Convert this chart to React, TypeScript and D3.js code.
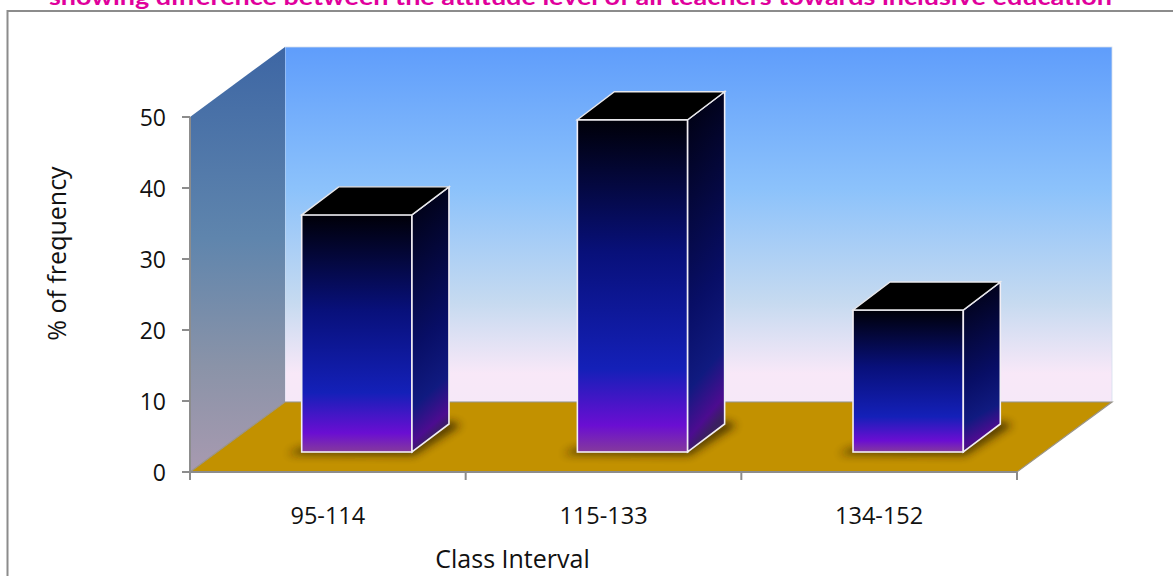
import React from "react";
import * as d3 from "d3";

const titleText = "showing difference between the attitude level of all teachers towards inclusive education";
const categories = ["95-114", "115-133", "134-152"];
const frequency = [33.4, 46.8, 20];
const yTicks = [0, 10, 20, 30, 40, 50];

const W = 1173;
const H = 576;
const plotLeft = 190;
const plotRight = 1017;
const plotBottom = 472;
const plotTop = 117;
const wallDx = 95;
const wallDy = -70;
const barShiftX = 29;
const barShiftY = -20;
const barDepthX = 37;
const barDepthY = -28;

const x = d3.scaleBand<string>().domain(categories).range([plotLeft, plotRight]).paddingInner(0.6).paddingOuter(0.3);
const bandX = d3.scaleBand<string>().domain(categories).range([plotLeft, plotRight]);
const y = d3.scaleLinear().domain([0, 50]).range([plotBottom, plotTop]);

const poly = d3.line<[number, number]>().curve(d3.curveLinearClosed);

const frontStops: [string, string][] = [
  ["0%", "#000008"],
  ["40%", "#08107a"],
  ["75%", "#1420b8"],
  ["92%", "#6a0ed2"],
  ["100%", "#853a9c"],
];
const sideStops: [string, string][] = [
  ["0%", "#00000c"],
  ["60%", "#080e66"],
  ["82%", "#101a80"],
  ["95%", "#4c0c90"],
  ["100%", "#3a2060"],
];

export default function App() {
  const gridBack = plotRight + wallDx;
  const backTop = plotTop + wallDy;
  const backBottom = plotBottom + wallDy;
  return (
    <svg
      width={W}
      height={H}
      viewBox={`0 0 ${W} ${H}`}
      style={{ position: "absolute", left: 0, top: 0, background: "#fff" }}
    >
      <defs>
        <linearGradient id="backWall" x1="0" y1="0" x2="0" y2="1">
          <stop offset="0%" stopColor="#5f9dfb" />
          <stop offset="40%" stopColor="#8cc2fb" />
          <stop offset="72%" stopColor="#c6daf0" />
          <stop offset="92%" stopColor="#f8e8f8" />
          <stop offset="100%" stopColor="#f6e8f8" />
        </linearGradient>
        <linearGradient id="sideWall" x1="0" y1="0" x2="0" y2="1">
          <stop offset="0%" stopColor="#3d66a4" />
          <stop offset="45%" stopColor="#5f85ad" />
          <stop offset="75%" stopColor="#8a93a8" />
          <stop offset="100%" stopColor="#a89ab0" />
        </linearGradient>
        <linearGradient id="barFront" x1="0" y1="0" x2="0" y2="1">
          {frontStops.map(([o, c]) => <stop key={o} offset={o} stopColor={c} />)}
        </linearGradient>
        <linearGradient id="barSide" x1="0" y1="0" x2="0.12" y2="1">
          {sideStops.map(([o, c]) => <stop key={o} offset={o} stopColor={c} />)}
        </linearGradient>
        <filter id="soft" x="-30%" y="-100%" width="160%" height="300%">
          <feGaussianBlur stdDeviation="4" />
        </filter>
      </defs>

      {/* open frame: only the top and left edges are ruled */}
      <path d={`M7.5 ${H} V11 H${W}`} fill="none" stroke="#8c8c8c" strokeWidth={2} />

      <text x={49} y={5} fontFamily="Lato, 'Open Sans', sans-serif" fontWeight={700} fontSize={23} fill="#e0009c" textLength={1063} lengthAdjust="spacingAndGlyphs">
        {titleText}
      </text>

      <rect x={plotLeft + wallDx} y={backTop} width={plotRight - plotLeft} height={backBottom - backTop} fill="url(#backWall)" stroke="#d4dfee" strokeWidth={0.8} />
      <path
        d={poly([[plotLeft, plotTop], [plotLeft + wallDx, backTop], [plotLeft + wallDx, backBottom], [plotLeft, plotBottom]]) ?? ""}
        fill="url(#sideWall)"
      />
      <path
        d={poly([[plotLeft, plotBottom], [plotLeft + wallDx, backBottom], [gridBack, backBottom], [plotRight, plotBottom]]) ?? ""}
        fill="#c29100"
        stroke="#9a9488"
        strokeWidth={1.2}
      />

      {categories.map((c, i) => {
        const left = (x(c) as number) + barShiftX;
        const w = x.bandwidth();
        const base = plotBottom + barShiftY;
        const top = y(frequency[i]) + barShiftY;
        const right = left + w;
        return (
          <g key={c}>
            <path
              d={poly([[left - 14, base + 2], [right + 2, base + 3], [right + barDepthX + 12, base + barDepthY + 1], [right + barDepthX, base + barDepthY - 3], [right, base - 6], [left, base - 4]]) ?? ""}
              fill="#2a1c00"
              opacity={0.8}
              filter="url(#soft)"
            />
            <rect x={left} y={top} width={w} height={base - top} fill="url(#barFront)" stroke="#f2eef4" strokeWidth={1.6} />
            <path
              d={poly([[right, top], [right + barDepthX, top + barDepthY], [right + barDepthX, base + barDepthY], [right, base]]) ?? ""}
              fill="url(#barSide)"
              stroke="#f2eef4"
              strokeWidth={1.6}
            />
            <path
              d={poly([[left, top], [left + barDepthX, top + barDepthY], [right + barDepthX, top + barDepthY], [right, top]]) ?? ""}
              fill="#000"
              stroke="#e8e8ec"
              strokeWidth={1.4}
            />
          </g>
        );
      })}

      <g stroke="#8c8c8c" strokeWidth={2} fill="none">
        <line x1={plotLeft} x2={plotLeft} y1={plotTop} y2={plotBottom + 8} />
        <line x1={plotLeft - 8} x2={plotRight} y1={plotBottom} y2={plotBottom} />
        {yTicks.map((t) => (
          <line key={t} x1={plotLeft - 8} x2={plotLeft} y1={y(t)} y2={y(t)} />
        ))}
        {categories.map((c) => {
          const edge = (bandX(c) as number) + bandX.bandwidth();
          return <line key={c} x1={edge} x2={edge} y1={plotBottom} y2={plotBottom + 8} />;
        })}
      </g>

      <g fontFamily="'Open Sans', sans-serif" fill="#111">
        {yTicks.map((t) => (
          <text key={t} x={166} y={y(t) + 9} textAnchor="end" fontSize={23}>{t}</text>
        ))}
        {categories.map((c) => (
          <text key={c} x={(bandX(c) as number) + bandX.bandwidth() / 2} y={524} textAnchor="middle" fontSize={23.5}>{c}</text>
        ))}
        <text x={512.5} y={568} textAnchor="middle" fontSize={25}>Class Interval</text>
        <text transform="translate(66,253.5) rotate(-90)" textAnchor="middle" fontSize={25}>% of frequency</text>
      </g>
    </svg>
  );
}
